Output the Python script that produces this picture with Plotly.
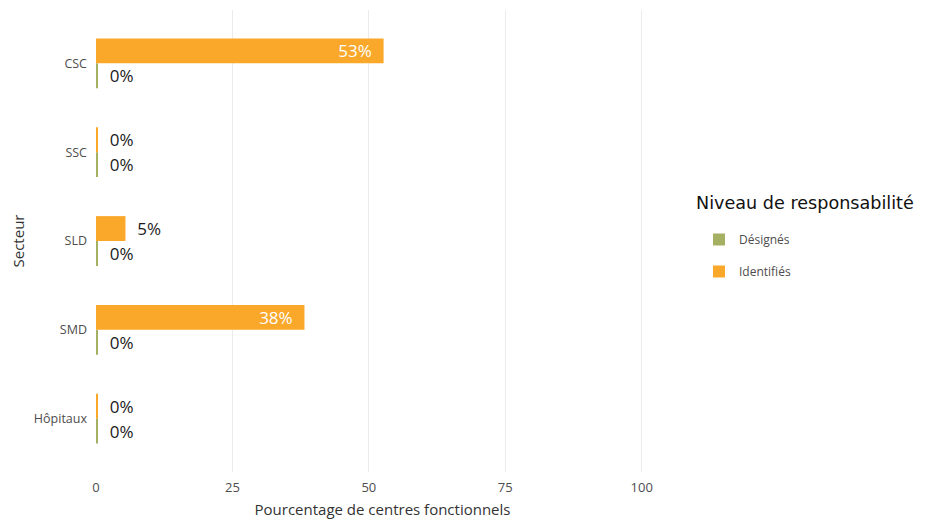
import plotly.graph_objects as go

sectors = ["CSC", "SSC", "SLD", "SMD", "Hôpitaux"]
designes = [0, 0, 0, 0, 0]
identifies = [52.7, 0, 5.4, 38.2, 0]
series_names = ["Désignés", "Identifiés"]
series_colors = ["#a6b062", "#f9a82a"]
x_ticks = [0, 25, 50, 75, 100]
legend_title = "Niveau de responsabilité"

MIN_VISIBLE = 0.2  # draw zero bars as a hairline like the reference


def bar_trace(name, values, color):
    shown = [max(v, MIN_VISIBLE) for v in values]
    texts = []
    positions = []
    for v in values:
        lab = f"{round(v)}%"
        if v > 15:
            texts.append(lab + "\u00a0\u00a0")
            positions.append("inside")
        else:
            texts.append("\u00a0\u00a0" + lab)
            positions.append("outside")
    return go.Bar(
        name=name,
        y=sectors,
        x=shown,
        orientation="h",
        marker=dict(color=color, line=dict(width=0)),
        text=texts,
        textposition=positions,
        insidetextanchor="end",
        constraintext="none",
        insidetextfont=dict(family="Open Sans", size=17, color="white"),
        outsidetextfont=dict(family="Open Sans", size=17, color="#1a1a1a"),
        cliponaxis=False,
        legendgroup=name,
        hoverinfo="skip",
    )


fig = go.Figure()
fig.add_trace(bar_trace(series_names[0], designes, series_colors[0]))
fig.add_trace(bar_trace(series_names[1], identifies, series_colors[1]))

# page body adds an 8px offset
OFF = 8
W, H = 925 - OFF, 519 - OFF
ML, MT = 96 - OFF, 10 - OFF
PLOT_R, PLOT_B = 669 - OFF, 472 - OFF
MR, MB = W - PLOT_R, H - PLOT_B
PW, PH = W - ML - MR, H - MT - MB


def px_x(px):
    return (px - OFF - ML) / PW


def px_y(py):
    return (H - MB - (py - OFF)) / PH


fig.add_annotation(
    text=legend_title,
    xref="paper", yref="paper",
    x=px_x(694), y=px_y(203),
    xanchor="left", yanchor="middle",
    showarrow=False,
    font=dict(family="DejaVu Sans", size=17.6, color="#111111"),
)

fig.update_layout(
    width=W,
    height=H,
    barmode="group",
    bargap=0.44,
    bargroupgap=0,
    plot_bgcolor="white",
    paper_bgcolor="white",
    margin=dict(l=ML, r=MR, t=MT, b=MB, autoexpand=False),
    font=dict(family="Open Sans", color="#4d4d4d"),
    xaxis=dict(
        range=[0, 105],
        tickvals=x_ticks,
        ticktext=[str(t) for t in x_ticks],
        showgrid=True,
        gridcolor="#ebebeb",
        gridwidth=1,
        zeroline=False,
        showline=False,
        ticks="",
        automargin=False,
        ticklabelstandoff=6,
        tickfont=dict(family="Open Sans", size=13, color="#4d4d4d"),
        title=dict(text="Pourcentage de centres fonctionnels",
                   font=dict(family="Open Sans", size=15, color="#333333"),
                   standoff=9),
    ),
    yaxis=dict(
        categoryorder="array",
        categoryarray=list(reversed(sectors)),
        range=[-0.6, 4.6],
        showgrid=False,
        zeroline=False,
        showline=False,
        ticks="",
        automargin=False,
        ticklabelstandoff=8,
        tickfont=dict(family="Open Sans", size=12.5, color="#4d4d4d"),
        title=dict(text="Secteur",
                   font=dict(family="Open Sans", size=15, color="#333333"),
                   standoff=8),
    ),
    legend=dict(
        x=px_x(699),
        xanchor="left",
        y=px_y(225),
        yanchor="top",
        traceorder="grouped",
        tracegroupgap=13,
        font=dict(family="Open Sans", size=12, color="#4d4d4d"),
        bgcolor="rgba(0,0,0,0)",
    ),
    showlegend=True,
)

fig.write_html("out.html")
